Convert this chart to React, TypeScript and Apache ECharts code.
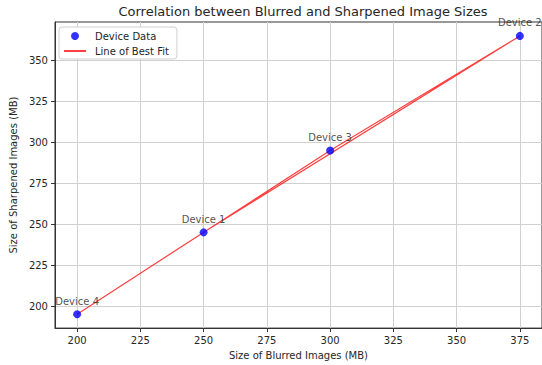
import React, { useEffect, useRef } from "react";
import * as echarts from "echarts";

const deviceNames = ["Device 1", "Device 2", "Device 3", "Device 4"];
const blurredSizes = [250, 375, 300, 200];
const sharpenedSizes = [245, 365, 295, 195];
const fitValues = [245, 365, 295, 195];
const xTicks = [200, 225, 250, 275, 300, 325, 350, 375];
const yTicks = [200, 225, 250, 275, 300, 325, 350];

const FONT = "DejaVu Sans";
const TEXT = "#262626";

export default function App() {
  const ref = useRef<HTMLDivElement>(null);
  useEffect(() => {
    if (!ref.current) return;
    const chart = echarts.init(ref.current, undefined, { renderer: "svg" });
    const scatterData = blurredSizes.map((x, i) => ({
      value: [x, sharpenedSizes[i]],
      name: deviceNames[i],
    }));
    const lineData = blurredSizes.map((x, i) => [x, fitValues[i]]);
    chart.setOption({
      animation: false,
      backgroundColor: "#ffffff",
      textStyle: { fontFamily: FONT },
      title: {
        text: "Correlation between Blurred and Sharpened Image Sizes",
        left: 298,
        textAlign: "center",
        top: 0,
        textStyle: { fontFamily: FONT, fontSize: 13, fontWeight: "normal", color: TEXT },
      },
      legend: {
        left: 59,
        top: 27,
        orient: "vertical",
        padding: [4, 8, 3, 4],
        itemGap: 5,
        itemWidth: 22,
        itemHeight: 8,
        backgroundColor: "#ffffff",
        borderColor: "#d0d0d0",
        borderWidth: 1,
        borderRadius: 3,
        textStyle: { fontFamily: FONT, fontSize: 10, color: TEXT, padding: [0, 0, 0, 4] },
        data: [
          { name: "Device Data", icon: "circle" },
          { name: "Line of Best Fit", itemStyle: { opacity: 0 } },
        ],
      },
      grid: { left: 54, top: 22, width: 489, height: 310, show: true, borderColor: "#333333", borderWidth: 1, backgroundColor: "transparent" },
      xAxis: {
        type: "value",
        min: 191.25,
        max: 383.75,
        name: "Size of Blurred Images (MB)",
        nameLocation: "middle",
        nameGap: 19,
        nameTextStyle: { fontFamily: FONT, fontSize: 10, color: TEXT },
        axisLine: { show: true, lineStyle: { color: "#333333" } },
        axisTick: { show: true, length: 4, customValues: xTicks, lineStyle: { color: "#333333" } },
        axisLabel: { customValues: xTicks, margin: 7, fontFamily: FONT, fontSize: 10, color: TEXT },
        splitLine: { show: true, lineStyle: { color: "#d0d0d0", width: 1 } },
      },
      yAxis: {
        type: "value",
        min: 186.5,
        max: 373.5,
        name: "Size of Sharpened Images (MB)",
        nameLocation: "middle",
        nameGap: 36,
        nameRotate: 90,
        nameTextStyle: { fontFamily: FONT, fontSize: 10, color: TEXT },
        axisLine: { show: true, lineStyle: { color: "#333333" } },
        axisTick: { show: true, length: 4, customValues: yTicks, lineStyle: { color: "#333333" } },
        axisLabel: { customValues: yTicks, margin: 7, fontFamily: FONT, fontSize: 10, color: TEXT },
        splitLine: { show: true, lineStyle: { color: "#d0d0d0", width: 1 } },
      },
      series: [
        {
          name: "Line of Best Fit",
          type: "line",
          data: lineData,
          showSymbol: false,
          symbol: "none",
          itemStyle: { color: "rgba(255,0,0,0.75)" },
          lineStyle: { color: "rgba(255,0,0,0.75)", width: 1.2 },
          z: 3,
        },
        {
          name: "Device Data",
          type: "scatter",
          data: scatterData,
          symbolSize: 8,
          itemStyle: { color: "#0000ff" },
          label: {
            show: true,
            position: "top",
            distance: 4,
            formatter: (p: any) => p.name,
            fontFamily: FONT,
            fontSize: 10,
            color: TEXT,
          },
          z: 4,
        },
      ],
    });
    return () => chart.dispose();
  }, []);
  return (
    <div
      ref={ref}
      style={{ position: "fixed", left: 0, top: 0, width: 542, height: 365 }}
    />
  );
}
